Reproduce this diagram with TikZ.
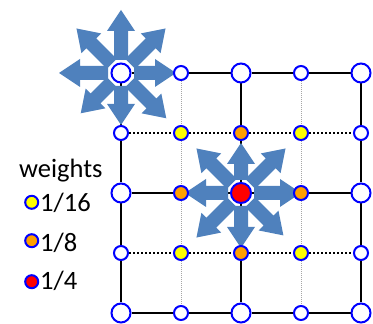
\documentclass[tikz,border=0pt]{standalone}
\usepackage{fontspec}
\setmainfont{Carlito}
\usetikzlibrary{backgrounds}
\definecolor{arrblue}{RGB}{79,129,189}
\definecolor{wyellow}{RGB}{255,255,0}
\definecolor{worange}{RGB}{255,160,0}
\definecolor{wred}{RGB}{255,0,0}
\begin{document}
\begin{tikzpicture}[x=1pt,y=1pt,
  big/.style={circle,draw=blue,line width=2pt,fill=white,minimum size=19pt,inner sep=0pt},
  small/.style={circle,draw=blue,line width=2pt,fill=white,minimum size=14pt,inner sep=0pt},
  yel/.style={small,fill=wyellow},
  ora/.style={small,fill=worange},
  redc/.style={big,fill=wred,minimum size=20pt},
  legend/.style={circle,draw=blue,line width=2pt,minimum size=13pt,inner sep=0pt},
  gridline/.style={line width=2.3pt},
  dotline/.style={line width=1.5pt,dash pattern=on 1.5pt off 2.5pt},
  vdot/.style={gray!70,line width=0.8pt,dash pattern=on 1pt off 1pt},
  lbl/.style={font=\fontsize{26.5}{30}\selectfont,anchor=base west,inner sep=0pt},
  starfill/.style={fill=arrblue}]
\useasboundingbox (0,0) rectangle (373,324);
% grid nodes: n-<col>-<row>, row 1 at top
\foreach \st [count=\i] in {big,small,big,small,big}
  \node[\st] (n-\i-1) at ({61+60*\i},251) {};
\foreach \st [count=\i] in {small,yel,ora,yel,small}
  \node[\st] (n-\i-2) at ({61+60*\i},191) {};
\foreach \st [count=\i] in {big,ora,redc,ora,big}
  \node[\st] (n-\i-3) at ({61+60*\i},131) {};
\foreach \st [count=\i] in {small,yel,ora,yel,small}
  \node[\st] (n-\i-4) at ({61+60*\i},71) {};
\foreach \st [count=\i] in {big,small,big,small,big}
  \node[\st] (n-\i-5) at ({61+60*\i},11) {};
\begin{scope}[on background layer]
  \foreach \j in {1,3,5}
    \foreach \i [count=\k from 2] in {1,...,4} {
      \draw[gridline] (n-\i-\j) -- (n-\k-\j);
      \draw[gridline] (n-\j-\i) -- (n-\j-\k);
    }
  \foreach \j in {2,4}
    \foreach \i [count=\k from 2] in {1,...,4} {
      \draw[dotline] (n-\i-\j) -- (n-\k-\j);
      \draw[vdot] (n-\j-\i) -- (n-\j-\k);
    }
  \foreach \a/\L in {90/63,180/62,0/55,270/52,135/63,45/63,315/64,225/57}
    \fill[starfill,shift={(n-1-1)},rotate=\a]
      (13,-7) -- ({\L-21},-7) -- ({\L-21},-14) -- (\L,0)
      -- ({\L-21},14) -- ({\L-21},7) -- (13,7) -- cycle;
  \foreach \a/\L in {90/50,180/56,0/60,270/55,135/63,45/63,315/60,225/63}
    \fill[starfill,shift={(n-3-3)},rotate=\a]
      (13,-7) -- ({\L-21},-7) -- ({\L-21},-14) -- (\L,0)
      -- ({\L-21},14) -- ({\L-21},7) -- (13,7) -- cycle;
\end{scope}
% legend
\node[lbl] (wt) at (19,146) {weights};
\node[legend,fill=wyellow] (l1) at (31.7,121.7) {};
\node[lbl] (t1) at (40,112.3) {1/16};
\node[legend,fill=worange] (l2) at (31.7,83.3) {};
\node[lbl] (t2) at (40,72.3) {1/8};
\node[legend,fill=wred] (l3) at (31.7,42.3) {};
\node[lbl] (t3) at (40,34) {1/4};
\end{tikzpicture}
\end{document}
